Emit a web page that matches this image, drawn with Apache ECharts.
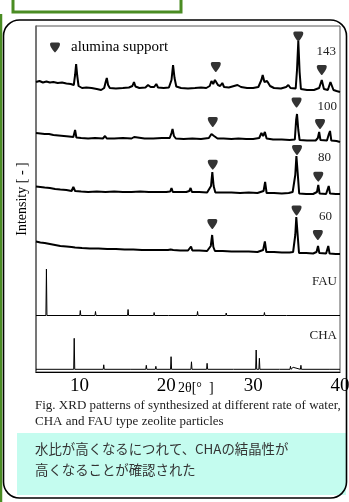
<!DOCTYPE html>
<html><head><meta charset="utf-8">
<script src="https://cdn.jsdelivr.net/npm/echarts@6/dist/echarts.min.js"></script>
<style>html,body{margin:0;padding:0;background:#fff;}#c{width:349px;height:502px;}</style>
</head><body><div id="c"></div>
<script>
// ---- data (2θ in degrees, intensity in arbitrary units above each trace's offset) ----
const xTickLabels = [10, 20, 30, 40];
const traceNames = ['143', '100', '80', '60', 'FAU', 'CHA'];
const traceOffsets = [280, 230, 178, 118, 56.5, 2.7];

const pattern143 = [[5.0,10],[5.4,11],[5.8,9.5],[6.2,10.5],[6.6,9.5],[7.0,10],[7.5,9],[8.0,9.5],[8.5,8.5],[9.0,8],[9.35,7],[9.5,17],[9.62,28],[9.75,16],[9.9,6],[10.3,4],[10.8,4.5],[11.4,4],[12.0,3],[12.5,2],[12.85,4],[13.05,11],[13.15,14],[13.3,7],[13.5,4],[14.2,3.5],[15.0,4],[15.7,4.5],[16.1,6],[16.28,10],[16.45,5.5],[16.9,4],[17.6,4.5],[17.9,7],[18.04,9],[18.2,5],[18.6,5],[18.85,8],[19.05,4.5],[19.7,4],[20.3,4.5],[20.6,12],[20.78,27],[20.95,14],[21.15,5.5],[21.7,4],[22.5,3.5],[23.3,4],[24.0,4.5],[24.6,4],[25.0,6],[25.2,11],[25.4,8],[25.6,12],[25.75,14],[25.95,7],[26.2,6],[26.45,9],[26.65,5],[27.2,4.5],[27.8,6],[28.2,7],[28.6,5],[29.3,4],[30.0,4],[30.6,5],[30.95,12],[31.1,17],[31.3,10],[31.6,11],[31.75,13],[31.95,6],[32.4,4],[33.2,3.5],[33.8,5],[34.05,7],[34.3,4],[34.9,3.5],[35.05,22],[35.2,51],[35.35,20],[35.5,3],[36.2,2],[37.0,2],[37.6,4],[37.9,12],[38.15,3],[38.6,2],[38.9,10],[39.05,12],[39.25,2],[39.6,1],[40.0,0]];
const pattern100 = [[5.0,9],[5.5,8.5],[6.0,8],[6.5,8],[7.0,7],[7.6,6.5],[8.2,6],[8.8,5.5],[9.3,5],[9.5,12],[9.65,4.5],[10.2,4],[11.0,3.5],[11.8,4],[12.7,3.5],[12.95,6],[13.15,3.5],[14.0,3.5],[15.0,4],[16.0,3.5],[16.3,5],[16.5,3.5],[17.5,3.5],[18.5,3.5],[19.5,4],[20.4,4],[20.6,9],[20.72,13],[20.88,6],[21.1,3.5],[22.0,3],[23.0,3.5],[24.0,3],[24.9,4],[25.2,8],[25.35,10],[25.5,6],[25.7,8],[25.9,3.5],[26.6,3.5],[27.5,3],[28.3,3.5],[29.2,3],[30.0,3],[30.7,4],[30.95,9],[31.15,6],[31.35,10],[31.55,3.5],[32.3,2.5],[33.3,2.5],[34.2,2],[34.8,2.5],[34.95,22],[35.05,28],[35.2,12],[35.35,2],[36.2,1.5],[37.2,1.5],[37.45,4],[37.6,10],[37.75,2],[38.5,1.5],[38.72,8],[38.85,11],[39.0,1.5],[39.6,1],[40.0,0]];
const pattern80 = [[5.0,7.5],[5.5,7],[6.0,6.5],[6.6,6],[7.2,5],[7.8,4.5],[8.5,4],[9.1,3],[9.3,7],[9.5,3],[10.2,2.5],[11.0,2],[12.0,2.5],[13.0,2],[14.0,2.5],[15.0,2],[16.0,2],[17.0,2.5],[18.0,2],[19.0,2],[20.0,2],[20.45,2.5],[20.6,6],[20.75,2],[21.5,2],[22.3,2],[22.65,3],[22.8,6],[22.95,2],[23.8,2],[24.7,1.5],[25.15,8],[25.3,22],[25.45,8],[25.65,1.5],[26.5,1.5],[27.5,1.5],[28.5,1],[29.5,1.5],[30.5,1],[31.2,3],[31.38,12],[31.55,1],[32.4,1],[33.3,0.5],[34.1,1],[34.55,2],[34.85,19],[34.98,38],[35.12,22],[35.3,0.5],[36.1,0],[36.9,0],[37.35,2],[37.5,9],[37.65,0.5],[38.4,0],[38.7,8],[38.85,0.5],[39.5,0],[40.0,0]];
const pattern60 = [[5.0,12.5],[5.5,11.5],[6.0,11],[6.6,10],[7.2,9],[7.8,8],[8.5,7.5],[9.1,7],[9.3,9],[9.5,6.5],[10.3,6],[11.2,5.5],[12.2,5.5],[13.2,5],[14.2,5],[15.2,4.5],[16.2,4.5],[17.2,4],[18.2,4],[19.2,4],[20.2,4],[20.5,4.5],[20.65,6.5],[20.8,4],[21.6,3.5],[22.5,3.5],[22.7,5],[22.85,7.5],[23.0,3.5],[23.8,3.5],[24.7,3],[25.12,8],[25.28,19],[25.42,7],[25.6,3],[26.5,3],[27.5,2.5],[28.5,2.5],[29.5,2.5],[30.5,2],[31.15,4],[31.35,12.5],[31.52,2],[32.4,2],[33.3,1.5],[34.2,1.5],[34.6,2],[34.85,19],[34.97,37],[35.1,22],[35.28,1],[36.1,1],[36.9,0.5],[37.3,2],[37.47,8],[37.62,1],[38.4,0.5],[38.65,8],[38.8,0.5],[39.5,0],[40.0,0]];
// reference stick patterns: [2θ, peak height]
const peaksFAU = [[6.2,46.5],[10.1,5],[11.85,4],[15.6,6],[18.6,3],[20.3,2],[23.6,4],[26.9,2.5],[31.3,3],[33.9,1.5]];
const peaksCHA = [[9.4,31],[12.8,4.5],[15.9,2],[17.7,4],[18.8,3],[20.55,12.6],[22.1,1.5],[22.9,7.5],[24.7,6],[25.9,1],[27.8,2],[30.35,19.3],[30.72,11],[33.1,2],[34.3,3],[34.6,2],[35.5,4],[38.9,1.5]];
// alumina support markers: [2θ, height above the trace offset]
const alumina143 = [[25.7,25],[35.2,55.5],[37.9,22]];
const alumina100 = [[25.35,20],[35.0,39.5],[37.7,18]];
const alumina80 = [[25.35,29.3],[35.05,44],[37.5,17.3]];
const alumina60 = [[25.3,30],[35.0,43.5],[37.45,19]];

// ---- build ----
const serif = '"Liberation Serif", "Times New Roman", serif';
function shift(arr, off) { return arr.map(p => [p[0], p[1] + off]); }
function sticks(peaks, off) {
  const out = [[5, off]];
  peaks.forEach(p => { out.push([p[0]-0.06, off], [p[0], p[1] + off], [p[0]+0.06, off]); });
  out.push([40, off]);
  return out;
}
const samplePatterns = [pattern143, pattern100, pattern80, pattern60];
const aluminaSets = [alumina143, alumina100, alumina80, alumina60];
const triPath = 'path://M0,1.5 Q0,0 1.5,0 L8.5,0 Q10,0 10,1.5 Q10,4.5 5.6,9.5 Q5,10.2 4.4,9.5 Q0,4.5 0,1.5 Z';

const series = [];
samplePatterns.forEach((p, i) => {
  series.push({ type:'line', name: traceNames[i], data: shift(p, traceOffsets[i]), showSymbol:false, symbol:'none',
    lineStyle:{ color:'#000', width:2 }, silent:true, z:2 });
});
series.push({ type:'line', name:'FAU', data: sticks(peaksFAU, traceOffsets[4]), symbol:'none', lineStyle:{color:'#000', width:1}, silent:true });
series.push({ type:'line', name:'CHA', data: sticks(peaksCHA, traceOffsets[5]), symbol:'none', lineStyle:{color:'#000', width:1}, silent:true });
const markerData = [];
aluminaSets.forEach((s, i) => s.forEach(p => markerData.push([p[0], p[1] + traceOffsets[i]])));
series.push({ type:'scatter', name:'alumina support', data: markerData, symbol: triPath, symbolSize:[10,10],
  itemStyle:{color:'#000'}, silent:true, z:5 });

const chart = echarts.init(document.getElementById('c'), null, {renderer:'canvas'});
chart.setOption({
  animation:false,
  backgroundColor:'#fff',
  grid:{ left:36, right:9, top:26, bottom:130, show:true, borderColor:'#555', borderWidth:1, outerBoundsMode:'none' },
  legend:{ data:[{name:'alumina support', icon: triPath}], left:45, top:35, itemWidth:10, itemHeight:10,
    textStyle:{ fontFamily: serif, fontSize:15, color:'#000', padding:[0,0,0,6] }, selectedMode:false },
  xAxis:{ type:'value', min:5, max:40,
    axisLine:{ show:true, lineStyle:{color:'#000', width:1.2} }, axisTick:{show:false}, splitLine:{show:false},
    axisLabel:{ customValues: xTickLabels, fontFamily: serif, fontSize:19, color:'#000', margin:5 } },
  yAxis:{ type:'value', min:0, max:346, axisLine:{show:true, lineStyle:{color:'#666', width:1.5}},
    axisTick:{show:false}, axisLabel:{show:false}, splitLine:{show:false},
    name:'Intensity [ - ]', nameLocation:'middle', nameGap:7, nameRotate:90,
    nameTextStyle:{ fontFamily: serif, fontSize:14, color:'#000' } },
  series: series,
  graphic:[
    { type:'line', shape:{x1:1, y1:14, x2:1, y2:502}, style:{stroke:'#4a8c23', lineWidth:2.5}, silent:true },
    { type:'rect', shape:{x:13, y:-4, width:168, height:16}, style:{fill:'none', stroke:'#4a8c23', lineWidth:3}, silent:true },
    { type:'rect', shape:{x:3.5, y:20, width:343, height:478, r:16}, style:{fill:'none', stroke:'#000', lineWidth:1.6}, silent:true, z:-1 },
    { type:'rect', shape:{x:17, y:433, width:329, height:62}, style:{fill:'#c4fcef'}, silent:true, z:-2 },
    { type:'text', x:336, y:51.7, style:{text:'143', font:'13px '+serif, fill:'#222', align:'right', verticalAlign:'middle'} },
    { type:'text', x:337, y:106.7, style:{text:'100', font:'13px '+serif, fill:'#222', align:'right', verticalAlign:'middle'} },
    { type:'text', x:331, y:158, style:{text:'80', font:'13px '+serif, fill:'#222', align:'right', verticalAlign:'middle'} },
    { type:'text', x:332, y:216.7, style:{text:'60', font:'13px '+serif, fill:'#222', align:'right', verticalAlign:'middle'} },
    { type:'text', x:337, y:282, style:{text:'FAU', font:'13px '+serif, fill:'#222', align:'right', verticalAlign:'middle'} },
    { type:'text', x:337, y:336, style:{text:'CHA', font:'13px '+serif, fill:'#222', align:'right', verticalAlign:'middle'} },
    { type:'text', x:178, y:388, style:{text:'2θ[°  ]', font:'14px '+serif, fill:'#000', align:'left', verticalAlign:'middle'} },
    { type:'text', x:35, y:406, style:{text:'Fig. XRD patterns of synthesized at different rate of water,', font:'13px '+serif, fill:'#222', align:'left', verticalAlign:'middle'} },
    { type:'text', x:35, y:421.7, style:{text:'CHA and FAU type zeolite particles', font:'13px '+serif, fill:'#222', align:'left', verticalAlign:'middle'} },
    { type:'text', x:35, y:449, style:{text:'水比が高くなるにつれて、CHAの結晶性が', font:'13.4px "Noto Sans CJK JP", sans-serif', fill:'#333', align:'left', verticalAlign:'middle'} },
    { type:'text', x:35, y:470, style:{text:'高くなることが確認された', font:'13.4px "Noto Sans CJK JP", sans-serif', fill:'#333', align:'left', verticalAlign:'middle'} }
  ]
});
</script></body></html>
